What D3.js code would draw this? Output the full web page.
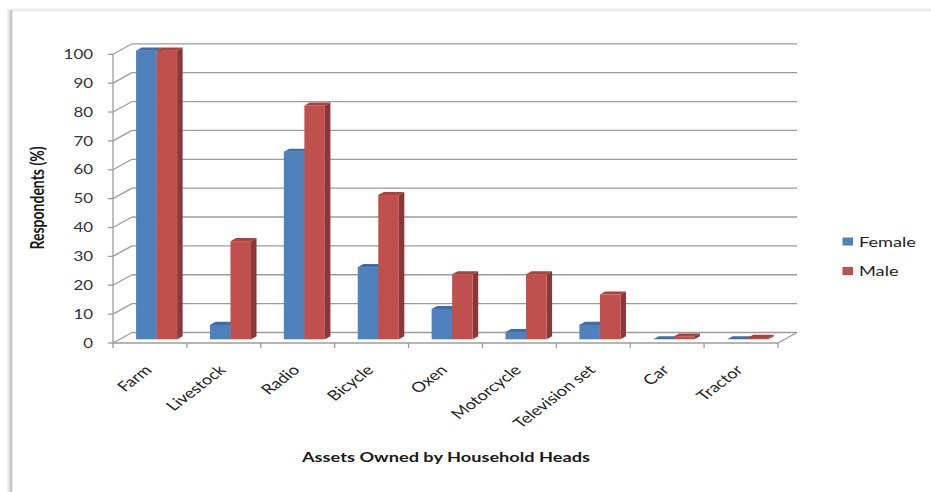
<!DOCTYPE html>
<html>
<head>
<meta charset="utf-8">
<script src="https://cdn.jsdelivr.net/npm/d3@7"></script>
<style>
  html, body { margin: 0; padding: 0; background: #fff; }
  svg { display: block; }
  text { font-family: Lato, "Open Sans", sans-serif; fill: #1a1a1a; }
</style>
</head>
<body>
<svg id="chart" width="931" height="492"></svg>
<script>
const categories = ["Farm", "Livestock", "Radio", "Bicycle", "Oxen", "Motorcycle", "Television set", "Car", "Tractor"];
const femaleValues = [100, 5, 65, 25, 10.5, 2.5, 5, 0, 0];
const maleValues = [100, 34, 81, 50, 22.5, 22.5, 15.5, 1, 0.5];
const seriesNames = ["Female", "Male"];
const yTickValues = [0, 10, 20, 30, 40, 50, 60, 70, 80, 90, 100];
const xTitle = "Assets Owned by Household Heads";
const yTitle = "Respondents (%)";

const seriesValues = [femaleValues, maleValues];
const colors = {
  Female: { front: "#4f81bd", top: "#3f6da6", side: "#375e8d" },
  Male:   { front: "#c0504d", top: "#a9433f", side: "#8a3735" }
};

const svg = d3.select("#chart");
const S = 1.3; // horizontal stretch of the picture's text

// frame
svg.append("line").attr("x1", 10).attr("x2", 931).attr("y1", 10).attr("y2", 10)
  .attr("stroke", "#ececec").attr("stroke-width", 3);
svg.append("line").attr("x1", 8.5).attr("x2", 8.5).attr("y1", 10).attr("y2", 492)
  .attr("stroke", "#e4e4e4").attr("stroke-width", 2);
svg.append("line").attr("x1", 11).attr("x2", 11).attr("y1", 10).attr("y2", 492)
  .attr("stroke", "#c4c4c4").attr("stroke-width", 2.5);

// geometry
const x0 = 113, x1 = 778, yBase = 343, yTop = 54.3;
const DX = 19, DY = -10.5;         // wall depth
const d0 = 0.35, dBar = 0.29;      // bar depth start / thickness (fraction of wall depth)

const x = d3.scaleBand().domain(categories).range([x0, x1]).padding(0);
const xs = d3.scaleBand().domain(seriesNames).range([0, x.bandwidth()]).paddingInner(0).paddingOuter(0.8);
const y = d3.scaleLinear().domain([0, 100]).range([yBase, yTop]);

const grid = svg.append("g");
const gridColor = "#9c9c9c";
yTickValues.forEach(v => {
  grid.append("line")
    .attr("x1", x0 + DX).attr("x2", x1 + DX)
    .attr("y1", y(v) + DY).attr("y2", y(v) + DY)
    .attr("stroke", gridColor).attr("stroke-width", 1.3);
  grid.append("line")
    .attr("x1", x0).attr("x2", x0 + DX)
    .attr("y1", y(v)).attr("y2", y(v) + DY)
    .attr("stroke", gridColor).attr("stroke-width", 1.3);
  grid.append("line")
    .attr("x1", x0 - 5).attr("x2", x0)
    .attr("y1", y(v)).attr("y2", y(v))
    .attr("stroke", gridColor).attr("stroke-width", 1.3);
});
grid.append("line").attr("x1", x0).attr("x2", x0).attr("y1", y(0)).attr("y2", y(100))
  .attr("stroke", gridColor).attr("stroke-width", 1.3);
grid.append("line").attr("x1", x0).attr("x2", x1).attr("y1", y(0)).attr("y2", y(0))
  .attr("stroke", gridColor).attr("stroke-width", 1.3);
grid.append("line").attr("x1", x1).attr("x2", x1 + DX).attr("y1", y(0)).attr("y2", y(0) + DY)
  .attr("stroke", gridColor).attr("stroke-width", 1.3);
const tickXs = categories.map(c => x(c)).concat([x1]);
tickXs.forEach(tx => {
  grid.append("line").attr("x1", tx).attr("x2", tx).attr("y1", y(0)).attr("y2", y(0) + 5)
    .attr("stroke", gridColor).attr("stroke-width", 1.3);
});

// y tick labels
svg.append("g").selectAll("text").data(yTickValues).join("text")
  .attr("transform", v => `translate(93,${y(v)}) scale(${S},1)`)
  .attr("text-anchor", "end").attr("dy", "0.36em")
  .style("font-size", "13px").style("fill", "#333")
  .text(v => v);

// bars
const bars = svg.append("g");
const ox = DX * d0, oy = DY * d0;
const bx = DX * dBar, by = DY * dBar;
categories.forEach((c, i) => {
  seriesNames.forEach((s, k) => {
    const v = seriesValues[k][i];
    const left = x(c) + xs(s) + ox;
    const w = xs.bandwidth();
    const top = y(v) + oy;
    const bottom = y(0) + oy;
    const col = colors[s];
    bars.append("path")
      .attr("d", `M${left + w},${bottom} L${left + w + bx},${bottom + by} L${left + w + bx},${top + by} L${left + w},${top} Z`)
      .attr("fill", col.side);
    bars.append("rect")
      .attr("x", left).attr("y", top).attr("width", w).attr("height", Math.max(0, bottom - top))
      .attr("fill", col.front);
    bars.append("path")
      .attr("d", `M${left},${top} L${left + bx},${top + by} L${left + w + bx},${top + by} L${left + w},${top} Z`)
      .attr("fill", col.top);
  });
});

// category labels
svg.append("g").selectAll("text").data(categories).join("text")
  .attr("transform", c => `translate(${x(c) + x.bandwidth() / 2 + 3},${y(0) + 28}) scale(${S},1) rotate(-45)`)
  .attr("text-anchor", "end")
  .style("font-size", "14px").style("fill", "#222")
  .text(c => c);

// axis titles
svg.append("text")
  .attr("transform", `translate(446,462) scale(${S},1)`)
  .attr("text-anchor", "middle")
  .style("font-size", "14px").style("font-weight", "bold")
  .text(xTitle);
svg.append("text")
  .attr("transform", `translate(44,198) scale(${S},1) rotate(-90)`)
  .attr("text-anchor", "middle")
  .style("font-size", "14px").style("font-weight", "bold")
  .text(yTitle);

// legend
const legend = svg.append("g");
seriesNames.forEach((s, k) => {
  const ly = 237.5 + k * 29.5;
  legend.append("rect").attr("x", 842.5).attr("y", ly).attr("width", 10.5).attr("height", 8)
    .attr("fill", colors[s].front);
  legend.append("text")
    .attr("transform", `translate(859,${ly + 9}) scale(${S},1)`)
    .style("font-size", "14px").style("fill", "#222")
    .text(s);
});
</script>
</body>
</html>
